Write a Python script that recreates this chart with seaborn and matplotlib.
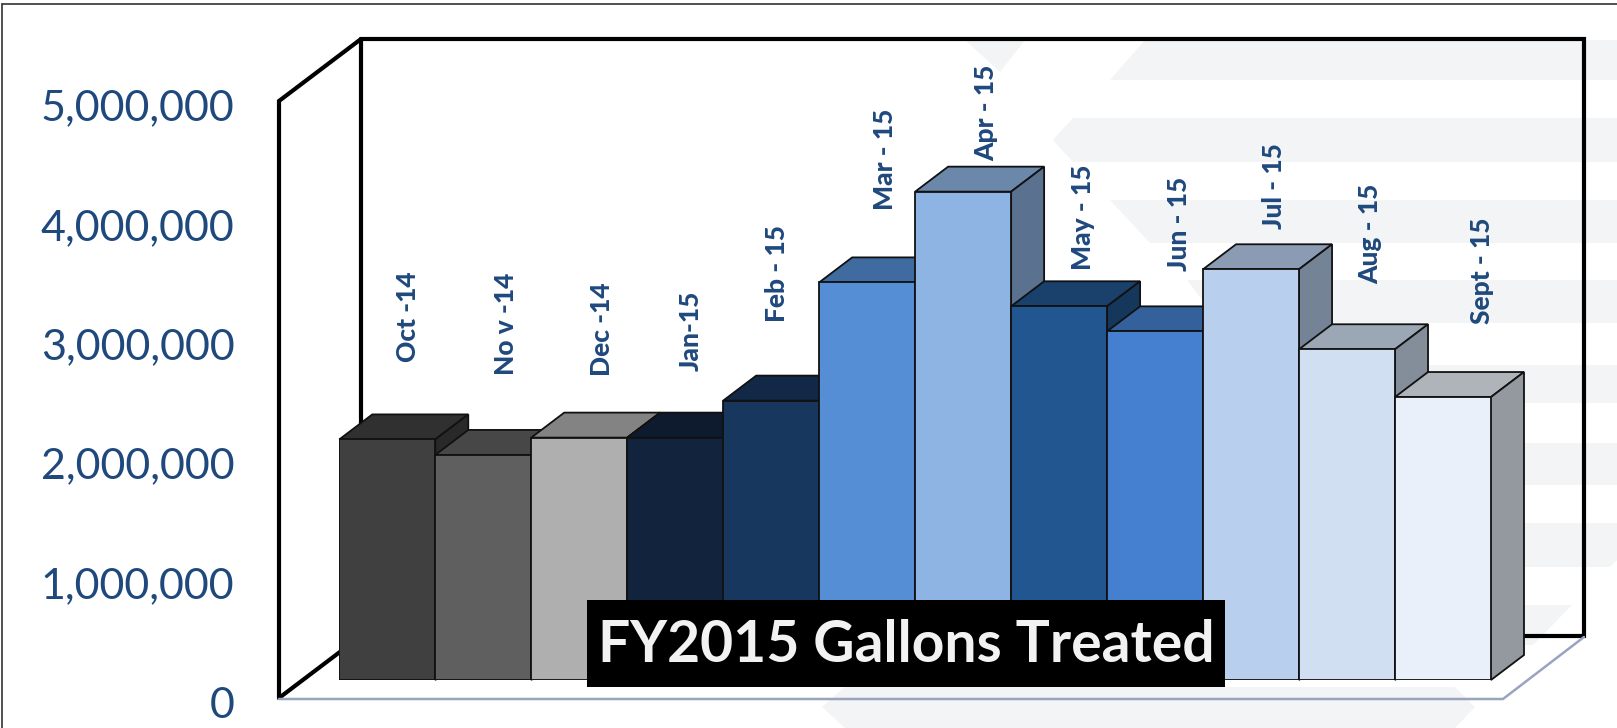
import numpy as np
import seaborn as sns
import matplotlib.pyplot as plt
from matplotlib.colors import to_rgb
from matplotlib.patches import Polygon

# Data
months = ['Oct -14', 'No v -14', 'Dec -14', 'Jan-15', 'Feb - 15', 'Mar - 15',
          'Apr - 15', 'May - 15', 'Jun - 15', 'Jul - 15', 'Aug - 15', 'Sept - 15']
gallons = [2015000, 1885000, 2030000, 2030000, 2340000, 3330000,
           4090000, 3130000, 2920000, 3440000, 2770000, 2370000]
colors = ['#404040', '#5f5f5f', '#afafaf', '#12243d', '#17375e', '#558ed5',
          '#8eb4e3', '#215690', '#4580d0', '#b9cfee', '#d0dff2', '#e9f0fa']
y_ticks = [0, 1000000, 2000000, 3000000, 4000000, 5000000]

# Label placement relative to the back top corner of each bar (pixels)
label_dx = [21, 23, 23, 16, 6, 18, 23, 24, 24, 23, 23, 39]
label_gap = [52, 55, 37, 42, 54, 47, 6, 11, 35, 15, 40, 48]

W, H = 1617, 728
BLUE = '#1f497d'
FONT = ['Lato', 'DejaVu Sans']

sns.set_theme(style='white')
plt.rcParams['font.family'] = FONT

fig = plt.figure(figsize=(W / 100, H / 100), dpi=100, facecolor='white')


def box(x0, x1, y_top, y_bot):
    return [x0 / W, 1 - y_bot / H, (x1 - x0) / W, (y_bot - y_top) / H]


# Background layer in pixel coordinates: watermark and the chart walls
bg = fig.add_axes([0, 0, 1, 1], zorder=0)
bg.set_xlim(0, W)
bg.set_ylim(H, 0)
bg.axis('off')

watermark = [
    [(1145, 40), (W, 40), (W, 80), (1110, 80)],
    [(1073, 118), (W, 118), (W, 162), (1073, 162), (1053, 140)],
    [(1110, 200), (W, 200), (W, 243), (1150, 243)],
    [(1187, 280), (W, 280), (W, 323), (1220, 323)],
    [(1250, 365), (W, 365), (W, 403), (1250, 403)],
    [(1450, 443), (W, 443), (W, 485), (1450, 485)],
    [(1450, 523), (W, 523), (W, 560), (1610, 567), (1450, 567)],
    [(1525, 605), (1572, 605), (1533, 645), (1525, 645)],
    [(845, 687), (1455, 687), (1475, 707), (1455, 728), (845, 728), (822, 707)],
    [(965, 40), (1025, 40), (1000, 72)],
]
for pts in watermark:
    bg.add_patch(Polygon(pts, closed=True, facecolor='#f3f4f6', edgecolor='none'))

bg.plot([279, 279, 361, 1584, 1584, 361, 361], [698, 101, 39, 39, 636, 636, 39],
        color='black', lw=3, solid_joinstyle='miter')
bg.plot([279, 361], [698, 636], color='black', lw=3)
bg.plot([279, 1503, 1584], [699, 699, 637], color='#9aa3bf', lw=1.8)

# Outer frame of the slide picture
bg.plot([2, 2], [H, 4], color='#333333', lw=1.2)
bg.plot([2, W], [4, 4], color='#333333', lw=1.2)

# Value axis sits on the front plane, labels a little below the gridline height
wall = fig.add_axes(box(279, 1503, 105, 702), zorder=1)
wall.patch.set_visible(False)
wall.set_ylim(0, 5000000)
wall.set_yticks(y_ticks)
wall.set_yticklabels([f'{v:,}' for v in y_ticks], color=BLUE, fontsize=31)
wall.tick_params(axis='y', length=0, pad=32)
wall.set_xticks([])
sns.despine(ax=wall, left=True, bottom=True)

# Bars sit partway back on the floor
ax = fig.add_axes(box(339.3, 1491, 84, 680), zorder=2)
ax.patch.set_visible(False)
sns.barplot(x=months, y=gallons, hue=months, palette=colors, saturation=1,
            width=1.0, legend=False, edgecolor='#111111', linewidth=1.3, ax=ax)
ax.set_xlim(-0.5, 11.5)
ax.set_ylim(0, 596 / 597 * 5000000)
ax.axis('off')

px_x = (1491 - 339.3) / 12
px_y = 597 / 5000000
dx = 33 / px_x
dy = 25 / px_y

for i, (bar, c, v) in enumerate(zip(ax.patches, colors, gallons)):
    bar.set_zorder(10.5 + i)
    rgb = np.array(to_rgb(c))
    left, right = i - 0.5, i + 0.5
    ax.fill([left, left + dx, right + dx, right], [v, v + dy, v + dy, v],
            color=rgb * 0.75, ec='#111111', lw=1.3, zorder=10 + i, clip_on=False)
    ax.fill([right, right + dx, right + dx, right], [v, v + dy, dy, 0],
            color=rgb * 0.635, ec='#111111', lw=1.3, zorder=10 + i, clip_on=False)
    ax.annotate(months[i], xy=(i, v + dy), xytext=(label_dx[i] * 0.72, label_gap[i] * 0.72),
                textcoords='offset points', rotation=90, ha='center', va='bottom',
                color=BLUE, fontsize=19, fontweight='black', zorder=40, annotation_clip=False)

# Title box
top = fig.add_axes([0, 0, 1, 1], zorder=5)
top.set_xlim(0, W)
top.set_ylim(H, 0)
top.axis('off')
top.add_patch(Polygon([(587, 600), (1225, 600), (1225, 687), (587, 687)],
                      closed=True, facecolor='black', edgecolor='none'))
top.text(906, 645, 'FY2015 Gallons Treated', color='#f2f2f2', fontsize=41,
         fontweight='bold', ha='center', va='center')

fig.savefig('out.png', dpi=100)
